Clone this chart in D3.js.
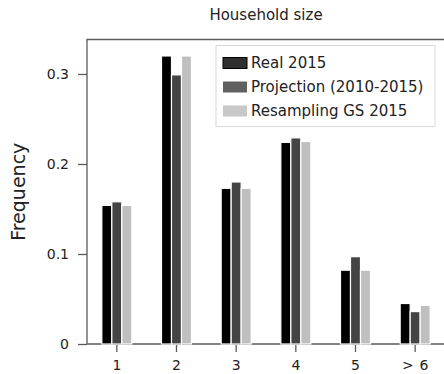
<!DOCTYPE html>
<html>
<head>
<meta charset="utf-8">
<script src="https://cdn.jsdelivr.net/npm/d3@7"></script>
<style>
  html, body { margin: 0; padding: 0; background: #fff; }
  svg { display: block; font-family: "DejaVu Sans", sans-serif; }
</style>
</head>
<body>
<svg id="chart" width="444" height="374"></svg>
<script>
// Household size distribution, three sources per size class
const categories = ["1", "2", "3", "4", "5", "> 6"];
const seriesNames = ["Real 2015", "Projection (2010-2015)", "Resampling GS 2015"];
const real2015 = [0.154, 0.320, 0.173, 0.224, 0.082, 0.045];
const projection = [0.158, 0.299, 0.180, 0.229, 0.097, 0.036];
const resampling = [0.154, 0.320, 0.173, 0.225, 0.082, 0.043];
const yTicks = [0, 0.1, 0.2, 0.3];
const yTickLabels = ["0", "0.1", "0.2", "0.3"];

const barColors = ["#000000", "#444444", "#bfbfbf"];
const legendColors = ["#2e2e2e", "#606060", "#c8c8c8"];
const series = [real2015, projection, resampling];

const svg = d3.select("#chart");
const margin = { left: 87, top: 39.5, right: -1, bottom: 30 };
const W = 444, H = 374;
const x0 = margin.left, x1 = W - margin.right;
const yTop = margin.top, yBot = 344;

const x = d3.scaleBand().domain(categories).range([x0, x1]).paddingInner(0).paddingOuter(0);
const sub = d3.scaleBand().domain(d3.range(series.length)).range([0, 30]);
const y = d3.scaleLinear().domain([0, 0.3383]).range([yBot, yTop]);

const axisColor = "#5a5a5a";

// bottom axis line (drawn first so bars sit over it)
svg.append("line")
  .attr("x1", x0).attr("x2", x1).attr("y1", yBot).attr("y2", yBot)
  .attr("stroke", axisColor).attr("stroke-width", 1.3);

// bars
categories.forEach((c, i) => {
  const cx = x(c) + x.bandwidth() / 2 - 15;
  series.forEach((s, k) => {
    svg.append("rect")
      .attr("x", cx + sub(k))
      .attr("y", y(s[i]))
      .attr("width", sub.bandwidth())
      .attr("height", yBot - y(s[i]))
      .attr("fill", barColors[k])
      .attr("stroke", "#ffffff")
      .attr("stroke-width", 1.2);
  });
});

// left and top spines
svg.append("line")
  .attr("x1", x0).attr("x2", x0).attr("y1", yTop).attr("y2", yBot)
  .attr("stroke", axisColor).attr("stroke-width", 1.3);
svg.append("line")
  .attr("x1", x0 - 0.6).attr("x2", x1).attr("y1", yTop).attr("y2", yTop)
  .attr("stroke", axisColor).attr("stroke-width", 1.3);

// y axis ticks and labels
const yAxis = d3.axisLeft(y).tickValues(yTicks)
  .tickFormat((d, i) => yTickLabels[i]).tickSize(9).tickPadding(9);
const gy = svg.append("g").attr("transform", `translate(${x0},0)`).call(yAxis);
gy.select(".domain").remove();
gy.selectAll(".tick line").attr("stroke", axisColor).attr("stroke-width", 1.3);
gy.selectAll(".tick text").attr("fill", "#222").attr("font-size", 14)
  .attr("font-family", "DejaVu Sans, sans-serif");

// x axis ticks and labels
const xAxis = d3.axisBottom(x).tickSize(7).tickPadding(8);
const gx = svg.append("g").attr("transform", `translate(0,${yBot + 1})`).call(xAxis);
gx.select(".domain").remove();
gx.selectAll(".tick line").attr("stroke", axisColor).attr("stroke-width", 1.3);
gx.selectAll(".tick text").attr("fill", "#222").attr("font-size", 14)
  .attr("font-family", "DejaVu Sans, sans-serif")
  .attr("xml:space", "preserve")
  .text(d => d === "> 6" ? ">\u2009\u20096" : d);

// title
svg.append("text")
  .attr("x", (x0 + x1) / 2).attr("y", 20)
  .attr("text-anchor", "middle").attr("font-size", 15).attr("fill", "#222")
  .text("Household size");

// y axis label
svg.append("text")
  .attr("transform", `translate(25,${(yTop + yBot) / 2}) rotate(-90)`)
  .attr("text-anchor", "middle").attr("font-size", 19).attr("fill", "#222")
  .text("Frequency");

// legend
const lg = svg.append("g").attr("transform", "translate(216,45.5)");
lg.append("rect")
  .attr("x", 0).attr("y", 0).attr("width", 219).attr("height", 81)
  .attr("fill", "#fff").attr("stroke", "#d8d8d8").attr("stroke-width", 1);
seriesNames.forEach((name, k) => {
  const cy = 17.5 + k * 24;
  lg.append("rect")
    .attr("x", 7).attr("y", cy - 5.5).attr("width", 24).attr("height", 11)
    .attr("fill", legendColors[k])
    .attr("stroke", k === 0 ? "#000" : "none").attr("stroke-width", 1);
  lg.append("text")
    .attr("x", 35).attr("y", cy).attr("dy", "0.35em")
    .attr("font-size", 15).attr("fill", "#222")
    .text(name);
});
</script>
</body>
</html>
